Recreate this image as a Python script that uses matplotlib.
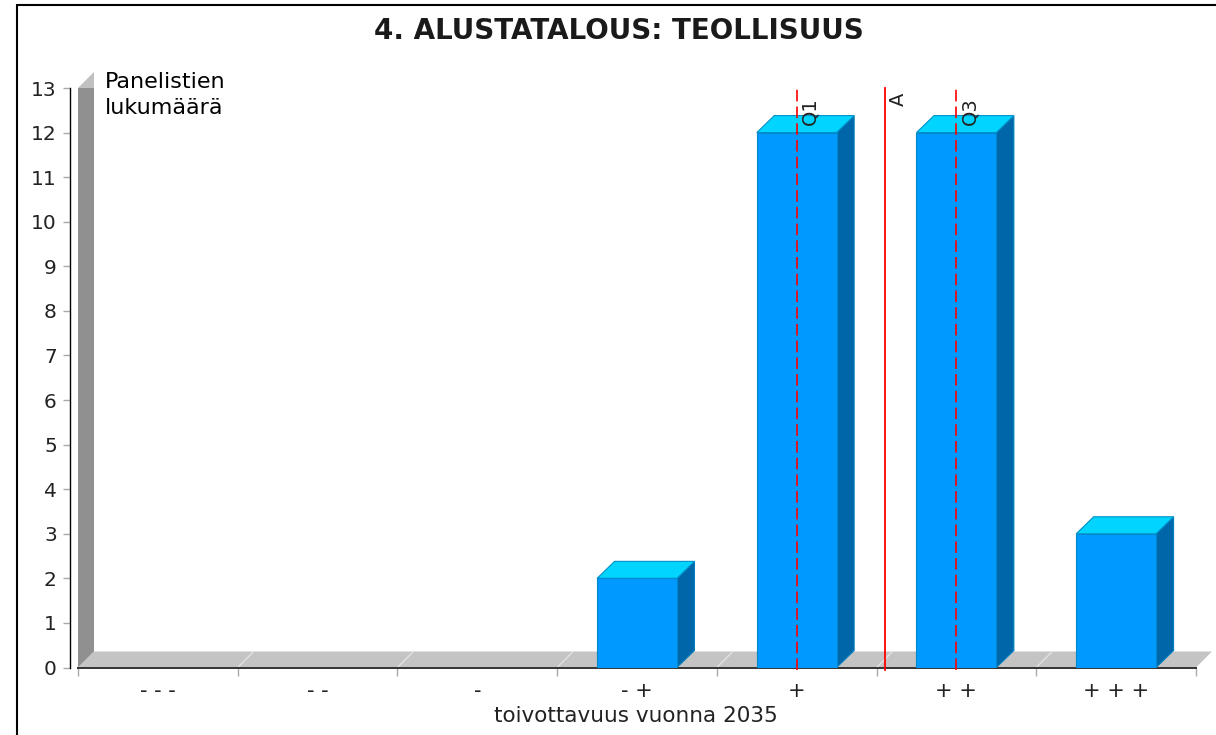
import numpy as np
import matplotlib
matplotlib.use("Agg")
import matplotlib.pyplot as plt
from matplotlib.patches import Polygon, Rectangle

# values
categories = ["- - -", "- -", "-", "- +", "+", "+ +", "+ + +"]
counts = [0, 0, 0, 2, 12, 12, 3]
y_ticks = list(range(0, 14))
marker_names = ["Q1", "A", "Q3"]
marker_values = [4.5, 5.05, 5.5]

W, H = 1216, 735
PX = 1 / 159.7   # one pixel in data units, x
PY = 1 / 44.6    # one pixel in data units, y
DX, DY = 16 * PX, 16 * PY      # depth of wall and floor
BX, BY = 17.5 * PX, 17 * PY    # depth of bars
BAR_W = 0.5

plt.rcParams["font.family"] = ["DejaVu Sans"]

fig = plt.figure(figsize=(W / 100, H / 100), dpi=100)
ax = fig.add_axes([78 / W, 1 - 667.5 / H, (1196 - 78) / W, (667.5 - 88) / H])
ax.set_xlim(0, len(categories))
ax.set_ylim(0, 13)
ax.patch.set_visible(False)

# outer frame
fig.add_artist(Rectangle((17 / W, -0.01), 1.1, 1 - 5 / H + 0.01, transform=fig.transFigure,
                         fill=False, ec="black", lw=1.5))

# wall and floor
n = len(categories)
ax.add_patch(Polygon([(0, 0), (DX, DY), (DX, 13), (0, 13)], fc="#909090", ec="none",
                     clip_on=False, zorder=1))
ax.add_patch(Polygon([(0, 13), (DX, 13 + DY), (DX, 13)], fc="#c0c0c0", ec="none",
                     clip_on=False, zorder=1))
ax.add_patch(Polygon([(0, 0), (DX, DY), (n + DX, DY), (n, 0)], fc="#c4c4c4", ec="none",
                     clip_on=False, zorder=1))
for i in range(1, n):
    ax.plot([i, i + DX], [0, DY], color="#e2e2e2", lw=1, clip_on=False, zorder=1.5)

# bars
pos = np.arange(n) + 0.5
for p, c in zip(pos, counts):
    if c == 0:
        continue
    l, r = p - BAR_W / 2, p + BAR_W / 2
    ax.add_patch(Polygon([(r, 0), (r + BX, BY), (r + BX, c + BY), (r, c)], fc="#0066aa",
                         ec="#0080c0", lw=0.8, clip_on=False, zorder=2))
    ax.add_patch(Polygon([(l, c), (l + BX, c + BY), (r + BX, c + BY), (r, c)], fc="#00d4ff",
                         ec="#0090c8", lw=0.8, clip_on=False, zorder=2))
ax.bar(pos, counts, width=BAR_W, color="#0099ff", edgecolor="#0088cc", linewidth=0.8, zorder=3)

# quartile and mean lines
for name, v in zip(marker_names, marker_values):
    if name == "A":
        ax.plot([v, v], [-3 * PY, 13], color="#ff0000", lw=1.3, zorder=4, clip_on=False)
        ax.text(v + 13.5 * PX, 12.75, name, rotation=90, ha="center", va="center",
                fontsize=14, color="#222222", zorder=5)
    else:
        ax.plot([v, v], [-3 * PY, 13], color="#ff0000", lw=1.4, ls=(0, (6, 2.6)), zorder=4,
                alpha=0.85, clip_on=False)
        ax.text(v + 13 * PX, 12.48, name, rotation=90, ha="center", va="center",
                fontsize=14, color="#222222", zorder=5)

# axes
ax.set_xticks(range(n + 1))
ax.set_xticklabels([])
ax.set_xticks(pos, minor=True)
ax.set_xticklabels(categories, minor=True, fontsize=15, color="#222222")
ax.tick_params(axis="x", which="major", length=6, color="#aaaaaa", width=1)
ax.tick_params(axis="x", which="minor", length=0, pad=9.5)
ax.set_yticks(y_ticks)
ax.tick_params(axis="y", length=5, color="#aaaaaa", width=1, labelsize=14.5, labelcolor="#222222", pad=4.5)
ax.spines["top"].set_visible(False)
ax.spines["right"].set_visible(False)
ax.spines["left"].set_position(("outward", 5.8))
ax.spines["left"].set_linewidth(1)
ax.spines["bottom"].set_linewidth(1.4)
ax.spines["bottom"].set_color("#333333")
ax.spines["bottom"].set_zorder(2.5)
ax.set_xlabel("toivottavuus vuonna 2035", fontsize=15.5, color="#222222", va="center")
ax.xaxis.set_label_coords((636 - 78) / 1118, -(716 - 667.5) / 579.5)

fig.text(105 / W, 1 - 72 / H, "Panelistien\nlukumäärä", fontsize=16, va="top", ha="left",
         linespacing=1.4, color="black")
fig.text(619 / W, 1 - 31 / H, "4. ALUSTATALOUS: TEOLLISUUS", fontsize=20, fontweight="bold",
         ha="center", va="center", color="#1a1a1a")

fig.savefig("out.png", dpi=100)
